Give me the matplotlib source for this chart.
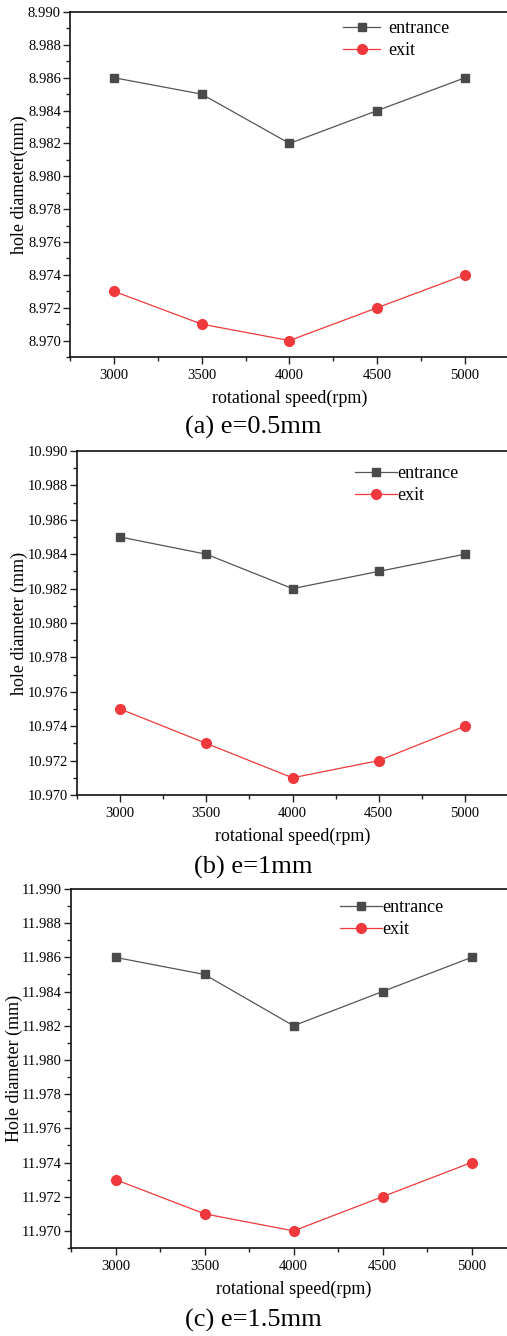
import numpy as np
import matplotlib
matplotlib.use('Agg')
from matplotlib import pyplot as plt
from matplotlib.ticker import MultipleLocator, FormatStrFormatter

plt.rcParams['font.family'] = ['Liberation Serif', 'DejaVu Serif']

speed = [3000, 3500, 4000, 4500, 5000]

entrance_a = [8.986, 8.985, 8.982, 8.984, 8.986]
exit_a = [8.973, 8.971, 8.970, 8.972, 8.974]
entrance_b = [10.985, 10.984, 10.982, 10.983, 10.984]
exit_b = [10.975, 10.973, 10.971, 10.972, 10.974]
entrance_c = [11.986, 11.985, 11.982, 11.984, 11.986]
exit_c = [11.973, 11.971, 11.970, 11.972, 11.974]

ylabels = ['hole diameter(mm)', 'hole diameter (mm)', 'Hole diameter (mm)']
captions = ['(a) e=0.5mm', '(b) e=1mm', '(c) e=1.5mm']
ylims = [(8.969, 8.990), (10.970, 10.990), (11.969, 11.990)]

W, H = 507, 1336
fig = plt.figure(figsize=(W / 100, H / 100), dpi=100)

# axes boxes in pixels: left, top, right, bottom
boxes = [(70, 12, 509, 357), (77, 451, 508, 795), (71, 889, 516, 1248)]
legend_pos = [(343, 20), (355, 465), (340, 899)]
legend_hl = [(2.05, 0.45), (2.3, 0.05), (2.3, 0.05)]
ylabel_pad = [0, 0, -1]
caption_y = [427, 867, 1320]

series = [(entrance_a, exit_a), (entrance_b, exit_b), (entrance_c, exit_c)]

for i in range(3):
    l, t, r, b = boxes[i]
    ax = fig.add_axes([l / W, 1 - b / H, (r - l) / W, (b - t) / H])
    ent, ext = series[i]
    ax.plot(speed, ent, color='#555555', lw=0.9, marker='s', ms=6,
            mfc='#4a4a4a', mec='#4a4a4a', label='entrance')
    ax.plot(speed, ext, color='#f0393c', lw=0.9, marker='o', ms=7,
            mfc='#f0393c', mec='#f0393c', label='exit')
    ax.set_xlim(2750, 5250)
    ax.set_ylim(*ylims[i])
    ax.xaxis.set_major_locator(MultipleLocator(500))
    ax.xaxis.set_minor_locator(MultipleLocator(250))
    ax.yaxis.set_major_locator(MultipleLocator(0.002))
    ax.yaxis.set_minor_locator(MultipleLocator(0.001))
    ax.yaxis.set_major_formatter(FormatStrFormatter('%.3f'))
    ax.tick_params(which='major', direction='out', length=5, width=1, labelsize=10.5, color='#222222')
    ax.tick_params(which='minor', direction='out', length=3, width=1, color='#222222')
    ax.tick_params(axis='x', which='major', pad=3.5)
    ax.tick_params(axis='y', which='major', pad=1.5)
    for s in ax.spines.values():
        s.set_linewidth(1.2)
        s.set_color('#111111')
    ax.set_xlabel('rotational speed(rpm)', fontsize=13, labelpad=6)
    ax.set_ylabel(ylabels[i], fontsize=13, labelpad=ylabel_pad[i])
    lx, ly = legend_pos[i]
    hl, hp = legend_hl[i]
    ax.legend(loc='upper left', bbox_to_anchor=((lx - l) / (r - l), (b - ly) / (b - t)),
              frameon=False, fontsize=13, borderpad=0, borderaxespad=0,
              handlelength=hl, handletextpad=hp, labelspacing=0.3)
    fig.text(0.5, 1 - caption_y[i] / H, captions[i], ha='center', va='center', fontsize=19)

fig.savefig('out.png', dpi=100)
